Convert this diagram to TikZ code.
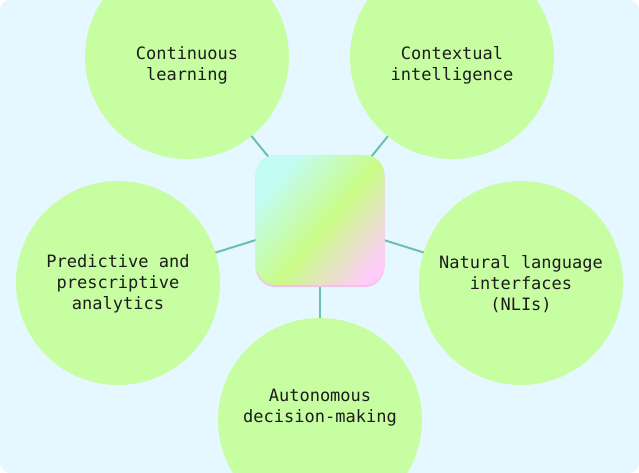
\documentclass[tikz,border=0pt]{standalone}
\usepackage{fontspec}
\newfontfamily\monofont{DejaVu Sans Mono}
\usetikzlibrary{calc}
\definecolor{ink}{HTML}{1C1C1C}
\definecolor{sky}{HTML}{E6F8FF}
\definecolor{leaf}{HTML}{C7FEA2}
\definecolor{wire}{HTML}{6CC0AB}
\definecolor{mint}{HTML}{C2FCF4}
\definecolor{lime}{HTML}{C9FC86}
\definecolor{blush}{HTML}{FFCCF9}
\definecolor{blushdark}{HTML}{F0C2EA}
\pgfdeclarehorizontalshading{hubshade}{100bp}{color(0bp)=(mint); color(27bp)=(mint); color(53bp)=(lime); color(78bp)=(blush); color(100bp)=(blush)}

\begin{document}
\begin{tikzpicture}[x=1pt,y=-1pt,
    bubble/.style={circle,fill=leaf,minimum size=204pt,inner sep=0pt},
    caption/.style={align=center,text=ink,font=\monofont\fontsize{17}{21}\selectfont},
    hubbox/.style={rounded corners=20pt,minimum width=129pt,minimum height=130pt,inner sep=0pt}]
  % background
  \fill[sky,rounded corners=10pt] (0,0) rectangle (639,473);
  \useasboundingbox (0,0) rectangle (639,473);
  % hub and topics
  \coordinate (hub) at (320,220);
  \node[bubble] (learn) at (187,57) {};
  \node[bubble] (ctx) at (452,57) {};
  \node[bubble] (pred) at (118,283) {};
  \node[bubble] (nli) at (521,283) {};
  \node[bubble] (auto) at (320,420) {};
  % connectors (behind the hub)
  \foreach \v in {learn,ctx,pred,nli,auto}{\draw[wire,line width=2pt,shorten <=102pt] (\v.center) -- (hub);}
  \node[hubbox,fill=blushdark] (shadow) at ([yshift=-2pt]hub) {};
  \node[hubbox,shading=hubshade,shading angle=-40] (core) at (hub) {};
  % labels
  \node[caption] (learn-t) at ([yshift=-8pt]learn.center) {Continuous\\learning};
  \node[caption] (ctx-t) at ([yshift=-8pt]ctx.center) {Contextual\\intelligence};
  \node[caption] (pred-t) at ([yshift=-1pt]pred.center) {Predictive and\\prescriptive\\analytics};
  \node[caption] (nli-t) at ([yshift=-1pt]nli.center) {Natural language\\interfaces\\(NLIs)};
  \node[caption] (auto-t) at ([yshift=12pt]auto.center) {Autonomous\\decision-making};
\end{tikzpicture}
\end{document}
